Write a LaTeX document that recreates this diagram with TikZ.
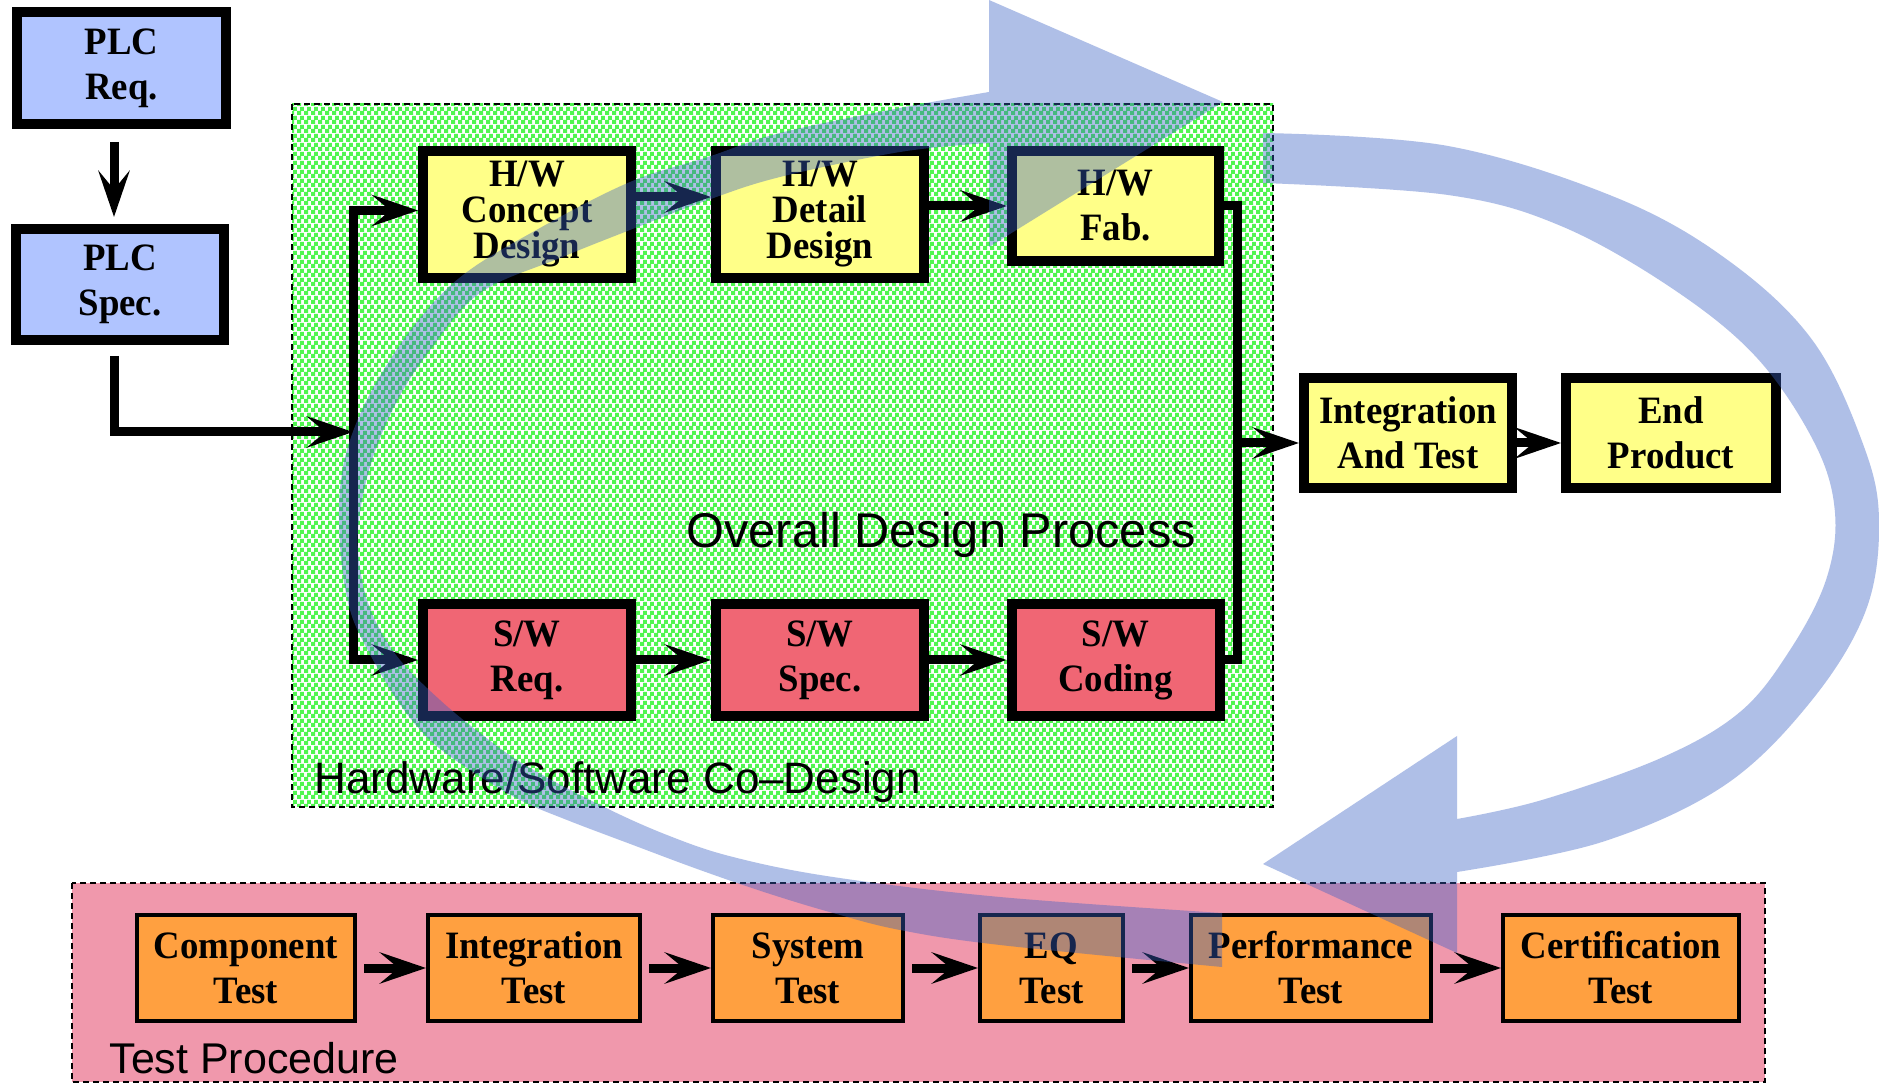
\documentclass[tikz,border=0pt]{standalone}
\usepackage{fontspec}
\usetikzlibrary{arrows.meta,patterns}
\newfontfamily\boxfont[FakeStretch=0.95]{Liberation Serif}
\newfontfamily\labfont{Liberation Sans}
\definecolor{plcblue}{RGB}{176,196,255}
\definecolor{hwyellow}{RGB}{255,255,136}
\definecolor{swred}{RGB}{240,102,116}
\definecolor{testorange}{RGB}{255,160,64}
\definecolor{codesigndot}{RGB}{80,245,80}
\definecolor{testbg}{RGB}{240,152,172}
\definecolor{loopblue}{RGB}{57,95,197}
% staggered green squares for the co-design area
\pgfdeclarepatternformonly{codots}{\pgfqpoint{0pt}{0pt}}{\pgfqpoint{2.64pt}{3.44pt}}{\pgfqpoint{2.64pt}{3.44pt}}{%
  \pgfpathrectangle{\pgfqpoint{0pt}{0pt}}{\pgfqpoint{1.7pt}{1.7pt}}%
  \pgfpathrectangle{\pgfqpoint{1.32pt}{1.72pt}}{\pgfqpoint{1.7pt}{1.7pt}}%
  \pgfusepath{fill}}
\tikzset{
  blk/.style={draw=black, line width=4pt, inner sep=0pt, align=center,
    font=\boxfont\bfseries\fontsize{15.5}{18}\selectfont},
  tri/.style={font=\boxfont\bfseries\fontsize{15.5}{14.4}\selectfont},
  plc/.style={blk, fill=plcblue},
  hw/.style={blk, fill=hwyellow},
  sw/.style={blk, fill=swred},
  tst/.style={blk, line width=1.6pt, fill=testorange},
  conn/.style={line width=3.6pt, line join=miter},
  arr/.style={conn, -{Stealth[length=18.5pt, width=12.5pt, inset=7.5pt]}},
  frame/.style={draw=black, line width=0.5pt, dash pattern=on 2.4pt off 1.6pt},
  lab/.style={font=\labfont\fontsize{17.6}{20}\selectfont, anchor=base west, inner sep=0pt},
  band/.style={fill=loopblue, fill opacity=0.4}
}
\begin{document}
\begin{tikzpicture}[x=0.4pt, y=-0.4pt]
\useasboundingbox (0,0) rectangle (1879,1083);
\fill[white] (0,0) rectangle (1879,1083);

% co-design area
\path[fill=white] (292,104) rectangle (1273,807);
\path[pattern=codots, pattern color=codesigndot] (292,104) rectangle (1273,807);
\draw[frame] (292,104) rectangle (1273,807);
% test area
\path[fill=testbg] (72,883) rectangle (1765,1082);
\draw[frame] (72,883) rectangle (1765,1082);

% area labels
\node[lab, font=\labfont\fontsize{19.5}{22}\selectfont] (overall) at (686,548) {Overall Design Process};
\node[lab] (codesign) at (314,794) {Hardware/Software Co–Design};
\node[lab, font=\labfont\fontsize{17.2}{20}\selectfont] (testproc) at (109,1073) {Test Procedure};

% requirement boxes
\node[plc, minimum width=83.6pt, minimum height=44.8pt] (plcreq) at (121.5,68) {PLC\\Req.};
\node[plc, minimum width=83.2pt, minimum height=44.4pt] (plcspec) at (120,284.5) {PLC\\Spec.};

% hardware path
\node[hw, tri, minimum width=83.2pt, minimum height=50.8pt] (hwc) at (527,214.5) {H/W\\Concept\\Design};
\node[hw, tri, minimum width=83.2pt, minimum height=50.8pt] (hwd) at (820,214.5) {H/W\\Detail\\Design};
\node[hw, minimum width=82.8pt, minimum height=44pt] (hwf) at (1115.5,206) {H/W\\Fab.};

% software path
\node[sw, minimum width=83.2pt, minimum height=44.8pt] (swr) at (527,660) {S/W\\Req.};
\node[sw, minimum width=83.2pt, minimum height=44.8pt] (sws) at (820,660) {S/W\\Spec.};
\node[sw, minimum width=83.2pt, minimum height=44.8pt] (swc) at (1115.5,660) {S/W\\Coding};

% integration and product
\node[hw, minimum width=83.2pt, minimum height=44pt] (integ) at (1408,433) {Integration\\And Test};
\node[hw, minimum width=84pt, minimum height=44pt] (endp) at (1671,433) {End\\Product};

% test procedure
\node[tst, minimum width=87.2pt, minimum height=42.4pt] (comp) at (246,968) {Component\\Test};
\node[tst, minimum width=84.8pt, minimum height=42.4pt] (itest) at (534,968) {Integration\\Test};
\node[tst, minimum width=76pt, minimum height=42.4pt] (systest) at (808,968) {System\\Test};
\node[tst, minimum width=57.2pt, minimum height=42.4pt] (eqt) at (1051.5,968) {EQ\\Test};
\node[tst, minimum width=96pt, minimum height=42.4pt] (perf) at (1311,968) {Performance\\Test};
\node[tst, minimum width=94.4pt, minimum height=42.4pt] (cert) at (1621,968) {Certification\\Test};

% connectors
\coordinate (reqout) at ([xshift=-3pt,yshift=-5.2pt]plcreq.south);
\coordinate (specin) at ([xshift=-2.4pt,yshift=2.8pt]plcspec.north);
\draw[arr] (reqout) -- (reqout |- specin);
\coordinate (specout) at ([xshift=-2.4pt,yshift=-4.4pt]plcspec.south);
\coordinate (busin) at (353,432);
\draw[arr] (specout) |- (busin);
\draw[arr] (busin) |- ([yshift=1.6pt]hwc.west);
\draw[arr] (busin) |- (swr.west);
\draw[arr] ([yshift=7pt]hwc.east) -- ([yshift=7pt]hwd.west);
\draw[arr] (hwd.east |- hwf.west) -- (hwf.west);
\draw[arr] (swr) -- (sws);
\draw[arr] (sws) -- (swc);
\coordinate (rbus) at (1237,443);
\draw[conn] (hwf.east) -| (rbus) |- (swc.east);
\draw[arr] (rbus) -- (rbus -| integ.west);
\draw[arr] (integ.east |- rbus) -- (endp.west |- rbus);
\draw[arr, shorten <=2.8pt] (comp) -- (itest);
\draw[arr, shorten <=2.8pt] (itest) -- (systest);
\draw[arr, shorten <=2.8pt] (systest) -- (eqt);
\draw[arr, shorten <=2.8pt] (eqt) -- (perf);
\draw[arr, shorten <=2.8pt] (perf) -- (cert);

% loop arrow from the test procedure back over the design flow
\fill[band] (989,92) -- (989,0) -- (1223,102) -- (989,247) -- (989,143)
  -- plot[smooth, tension=0.6] coordinates {(989,143) (900,152) (780,177) (708,200) (630,230) (560,258) (480,293) (430,350) (395,405) (370,467) (358,530) (362,580) (375,620) (400,660) (440,700) (480,733) (525,765) (600,805) (667,835) (733,857) (833,877) (1000,897) (1222,913)}
  -- (1222,967)
  -- plot[smooth, tension=0.6] coordinates {(1222,967) (1000,945) (900,930) (833,913) (767,893) (700,870) (633,845) (567,820) (520,800) (470,770) (430,740) (397,700) (365,645) (350,610) (342,567) (339,520) (341,480) (350,440) (372,390) (413,327) (463,275) (540,228) (630,182) (708,157) (780,133) (900,108) (989,92)}
  -- cycle;

% loop arrow from the design flow down to the test procedure
\fill[band] (1263,133)
  -- plot[smooth, tension=0.6] coordinates {(1263,133) (1448,146) (1617,198) (1729,261) (1813,341) (1863,444) (1879,520) (1866,610) (1812,700) (1725,785) (1602,842) (1457,872)}
  -- (1457,953) -- (1263,864) -- (1457,736) -- (1457,819)
  -- plot[smooth, tension=0.6] coordinates {(1457,819) (1542,800) (1661,758) (1740,712) (1790,650) (1826,580) (1835,513) (1815,444) (1757,358) (1673,289) (1561,226) (1448,195) (1263,183)}
  -- cycle;
\end{tikzpicture}
\end{document}
